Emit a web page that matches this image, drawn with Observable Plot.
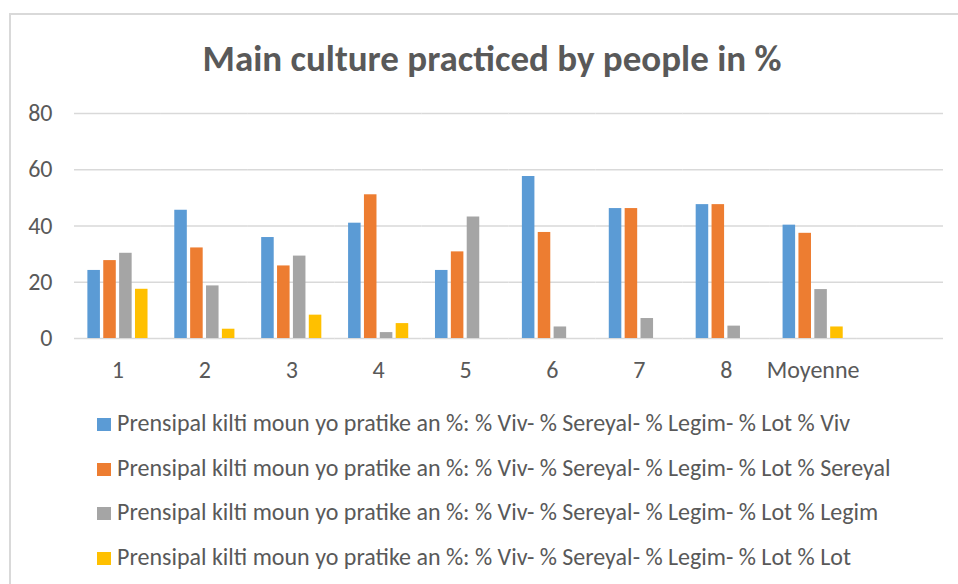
<!DOCTYPE html>
<html>
<head>
<meta charset="utf-8">
<script src="https://cdn.jsdelivr.net/npm/d3@7"></script>
<script src="https://cdn.jsdelivr.net/npm/@observablehq/plot@0.6"></script>
<style>
  html, body { margin: 0; padding: 0; background: #fff; }
  body { width: 958px; height: 584px; overflow: hidden; position: relative;
         font-family: Carlito, Calibri, "Liberation Sans Narrow", "Arial Narrow", sans-serif; color: #595959; }
  #frame { position: absolute; left: 9px; top: 13px; width: 1000px; height: 600px;
           border: 2px solid #d9d9d9; box-sizing: border-box; }
  #title { position: absolute; left: 0; width: 984px; top: 40px; text-align: center;
           font-size: 37px; line-height: 37px; font-weight: bold; color: #595959; white-space: nowrap; }
  #chart { position: absolute; left: 0; top: 90px; }
  #legend { position: absolute; left: 97px; top: 411px; }
  .item { position: absolute; left: 0; white-space: nowrap; font-size: 24px; line-height: 24px; height: 24px; }
  .sw { position: absolute; left: 0; top: 7px; width: 14px; height: 13px; }
  .lbl { position: absolute; left: 20px; top: 0; }
</style>
</head>
<body>
<div id="frame"></div>
<div id="title"></div>
<div id="chart"></div>
<div id="legend"></div>
<script>
const titleText = "Main culture practiced by people in %";
const categories = ["1", "2", "3", "4", "5", "6", "7", "8", "Moyenne"];
const blankSlot = " ";
const seriesNames = ["% Viv", "% Sereyal", "% Legim", "% Lot"];
const legendPrefix = "Prensipal kilti moun yo pratike an %: % Viv- % Sereyal- % Legim- % Lot ";
const viv     = [24.2, 45.6, 35.9, 41.0, 24.2, 57.6, 46.2, 47.6, 40.3];
const sereyal = [27.7, 32.2, 25.8, 51.1, 30.8, 37.7, 46.2, 47.6, 37.4];
const legim   = [30.3, 18.7, 29.3,  2.1, 43.2,  4.1,  7.1,  4.4, 17.4];
const lot     = [17.5,  3.3,  8.3,  5.3,  0,    0,    0,    0,    4.1];
const colors = ["#5B9BD5", "#ED7D31", "#A5A5A5", "#FFC000"];
const yTicks = [0, 20, 40, 60, 80];

const seriesValues = [viv, sereyal, legim, lot];
const rows = categories.flatMap((c, i) =>
  seriesNames.map((s, j) => ({category: c, series: s, value: seriesValues[j][i]})));
// the empty trailing category of the source chart (no values)
seriesNames.forEach((s) => rows.push({category: blankSlot, series: s, value: null}));

document.getElementById("title").textContent = titleText;

const fontFamily = 'Carlito, Calibri, "Liberation Sans Narrow", "Arial Narrow", sans-serif';

const chart = Plot.plot({
  width: 958,
  height: 300,
  marginLeft: 74,
  marginRight: 15,
  marginTop: 23,
  marginBottom: 52,
  style: {fontFamily, fontSize: "24px", color: "#595959", background: "transparent", overflow: "visible"},
  fx: {domain: [...categories, blankSlot], paddingInner: 0, paddingOuter: 0, round: false, axis: "bottom", label: null, tickSize: 0, tickPadding: 22},
  x: {domain: seriesNames, paddingInner: 0.21, paddingOuter: 0.843, round: false, axis: null},
  y: {domain: [0, 80], ticks: yTicks, label: null, tickSize: 0, tickPadding: 22},
  color: {domain: seriesNames, range: colors},
  marks: [
    Plot.ruleY(yTicks, {stroke: "#d9d9d9", strokeWidth: 1.5}),
    Plot.barY(rows, {fx: "category", x: "series", y: "value", fill: "series"})
  ]
});
document.getElementById("chart").appendChild(chart);

const legend = document.getElementById("legend");
seriesNames.forEach((s, i) => {
  const item = document.createElement("div");
  item.className = "item";
  item.style.top = (i * 44.5) + "px";
  const sw = document.createElement("div");
  sw.className = "sw";
  sw.style.background = colors[i];
  const lbl = document.createElement("div");
  lbl.className = "lbl";
  lbl.textContent = legendPrefix + s;
  item.appendChild(sw);
  item.appendChild(lbl);
  legend.appendChild(item);
});
</script>
</body>
</html>
